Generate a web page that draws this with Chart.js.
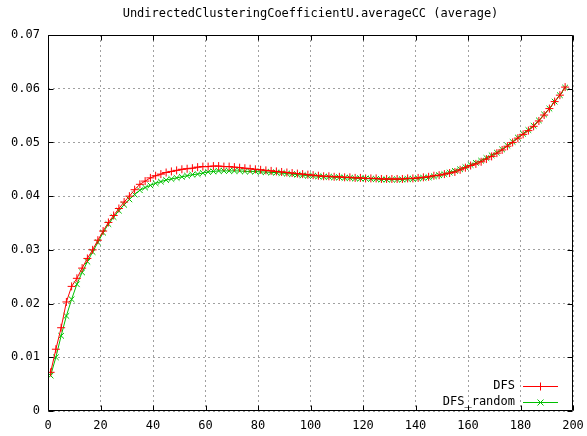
<!DOCTYPE html>
<html lang="en">
<head>
<meta charset="UTF-8">
<title>UndirectedClusteringCoefficientU.averageCC</title>
<script src="https://cdn.jsdelivr.net/npm/chart.js"></script>
<style>
  html, body { margin: 0; padding: 0; background: #fff; }
  #box { width: 587px; height: 436px; }
</style>
</head>
<body>
<div id="box"><canvas id="grafico"></canvas></div>
<script>
// x positions of the samples (odd steps 1..197)
var passos = [];
for (var i = 1; i <= 197; i += 2) passos.push(i);

var dfs = [
  0.0072, 0.0115, 0.0155, 0.0203, 0.0232, 0.0247, 0.0266, 0.0284, 0.0300, 0.0318,
  0.0335, 0.0351, 0.0364, 0.0377, 0.0389, 0.0400, 0.0412, 0.0422, 0.0428, 0.0434,
  0.0438, 0.0441, 0.0444, 0.0446, 0.0448, 0.0450, 0.0451, 0.0452, 0.0454, 0.0455,
  0.0455, 0.0456, 0.0456, 0.0455, 0.0455, 0.0454, 0.0453, 0.0452, 0.0451, 0.0450,
  0.0449, 0.0448, 0.0447, 0.0446, 0.0445, 0.0444, 0.0443, 0.0442, 0.0441, 0.0440,
  0.0439, 0.0438, 0.0437, 0.0437, 0.0436, 0.0436, 0.0435, 0.0435, 0.0434, 0.0434,
  0.0433, 0.0433, 0.0433, 0.0432, 0.0432, 0.0432, 0.0432, 0.0432, 0.0433, 0.0433,
  0.0434, 0.0435, 0.0436, 0.0438, 0.0439, 0.0441, 0.0443, 0.0445, 0.0449, 0.0453,
  0.0457, 0.0460, 0.0464, 0.0469, 0.0474, 0.0480, 0.0486, 0.0493, 0.0500, 0.0508,
  0.0515, 0.0522, 0.0530, 0.0540, 0.0551, 0.0563, 0.0576, 0.0588, 0.0603
];

var dfsRandom = [
  0.0066, 0.0100, 0.0140, 0.0177, 0.0208, 0.0236, 0.0258, 0.0278, 0.0296, 0.0314,
  0.0332, 0.0348, 0.0361, 0.0373, 0.0384, 0.0394, 0.0403, 0.0411, 0.0416, 0.0420,
  0.0424, 0.0427, 0.0430, 0.0432, 0.0434, 0.0436, 0.0438, 0.0440, 0.0441, 0.0443,
  0.0445, 0.0446, 0.0447, 0.0447, 0.0447, 0.0447, 0.0447, 0.0446, 0.0446, 0.0446,
  0.0445, 0.0445, 0.0444, 0.0444, 0.0443, 0.0442, 0.0441, 0.0440, 0.0439, 0.0438,
  0.0438, 0.0437, 0.0436, 0.0436, 0.0435, 0.0435, 0.0434, 0.0434, 0.0433, 0.0433,
  0.0433, 0.0432, 0.0432, 0.0431, 0.0431, 0.0431, 0.0431, 0.0431, 0.0432, 0.0432,
  0.0433, 0.0434, 0.0435, 0.0437, 0.0439, 0.0441, 0.0444, 0.0447, 0.0450, 0.0454,
  0.0458, 0.0462, 0.0466, 0.0471, 0.0476, 0.0481, 0.0487, 0.0494, 0.0501, 0.0509,
  0.0516, 0.0523, 0.0531, 0.0541, 0.0552, 0.0563, 0.0576, 0.0588, 0.0602
];

var titulo = 'UndirectedClusteringCoefficientU.averageCC (average)';
var nomes = ['DFS', 'DFS_random'];
var cores = ['#ff0000', '#00c000'];

var fonte = { family: 'DejaVu Sans Mono', size: 12 };

function pontos(ys) {
  return ys.map(function (y, k) { return { x: passos[k], y: y }; });
}

// title, frame with inward ticks, and the key in the lower right corner
var moldura = {
  id: 'moldura',
  afterDraw: function (chart) {
    var ctx = chart.ctx;
    var a = chart.chartArea;
    var sx = chart.scales.x, sy = chart.scales.y;
    ctx.save();

    ctx.fillStyle = '#000';
    ctx.font = '12px "DejaVu Sans Mono"';
    ctx.textAlign = 'center';
    ctx.textBaseline = 'middle';
    ctx.fillText(titulo, (a.left + a.right) / 2, 14);

    ctx.strokeStyle = '#000';
    ctx.lineWidth = 1;
    ctx.beginPath();
    var l = Math.round(a.left) + 0.5, r = Math.round(a.right) - 0.5;
    var t = Math.round(a.top) + 0.5, b = Math.round(a.bottom) - 0.5;
    ctx.rect(l, t, r - l, b - t);
    sx.ticks.forEach(function (tk) {
      var px = Math.round(sx.getPixelForValue(tk.value)) + 0.5;
      ctx.moveTo(px, b); ctx.lineTo(px, b - 5);
      ctx.moveTo(px, t); ctx.lineTo(px, t + 5);
    });
    sy.ticks.forEach(function (tk) {
      var py = Math.round(sy.getPixelForValue(tk.value)) + 0.5;
      ctx.moveTo(l, py); ctx.lineTo(l + 5, py);
      ctx.moveTo(r, py); ctx.lineTo(r - 5, py);
    });
    ctx.stroke();

    ctx.textAlign = 'right';
    nomes.forEach(function (nome, k) {
      var y = 386 + k * 16;
      ctx.fillStyle = '#000';
      ctx.fillText(nome, 515, y);
      ctx.strokeStyle = cores[k];
      ctx.beginPath();
      ctx.moveTo(523, y + 0.5); ctx.lineTo(558, y + 0.5);
      if (k === 0) {
        ctx.moveTo(540.5, y - 3.5); ctx.lineTo(540.5, y + 4.5);
      } else {
        ctx.moveTo(537.5, y - 2.5); ctx.lineTo(543.5, y + 3.5);
        ctx.moveTo(543.5, y - 2.5); ctx.lineTo(537.5, y + 3.5);
      }
      ctx.stroke();
    });
    ctx.restore();
  }
};

new Chart(document.getElementById('grafico').getContext('2d'), {
  type: 'line',
  data: {
    datasets: [
      {
        label: nomes[0],
        data: pontos(dfs),
        borderColor: cores[0],
        backgroundColor: cores[0],
        borderWidth: 1,
        pointStyle: 'cross',
        pointRadius: 4,
        pointBorderWidth: 1,
        pointBorderColor: cores[0],
        tension: 0
      },
      {
        label: nomes[1],
        data: pontos(dfsRandom),
        borderColor: cores[1],
        backgroundColor: cores[1],
        borderWidth: 1,
        pointStyle: 'crossRot',
        pointRadius: 4,
        pointBorderWidth: 1,
        pointBorderColor: cores[1],
        tension: 0
      }
    ]
  },
  options: {
    responsive: true,
    maintainAspectRatio: false,
    animation: false,
    layout: { padding: { top: 35, right: 14, left: 0, bottom: 0 } },
    plugins: {
      legend: { display: false },
      title: { display: false },
      tooltip: { enabled: false }
    },
    scales: {
      x: {
        type: 'linear',
        min: 0,
        max: 200,
        afterFit: function (s) {
          s.height = 25;
          s.paddingLeft = 0;
          s.paddingRight = 0;
        },
        ticks: { stepSize: 20, color: '#000', font: fonte, padding: 8, maxRotation: 0 },
        grid: { color: '#a0a0a0', drawTicks: false },
        border: { display: false, dash: [2, 3] }
      },
      y: {
        min: 0,
        max: 0.07,
        afterFit: function (s) {
          s.width = 48;
          s.paddingTop = 0;
          s.paddingBottom = 0;
        },
        ticks: {
          stepSize: 0.01,
          color: '#000',
          font: fonte,
          padding: 8,
          callback: function (v) { return v === 0 ? '0' : v.toFixed(2); }
        },
        grid: { color: '#a0a0a0', drawTicks: false },
        border: { display: false, dash: [2, 3] }
      }
    }
  },
  plugins: [moldura]
});
</script>
</body>
</html>
